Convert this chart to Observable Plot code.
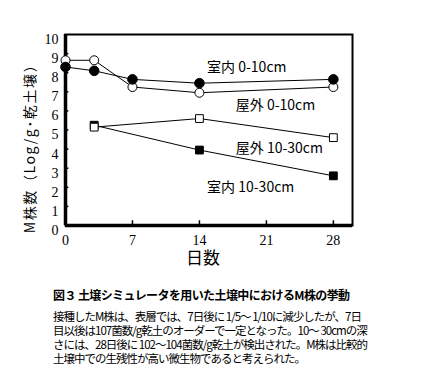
<!DOCTYPE html>
<html>
<head>
<meta charset="utf-8">
<script src="https://cdn.jsdelivr.net/npm/d3@7"></script>
<script src="https://cdn.jsdelivr.net/npm/@observablehq/plot@0.6"></script>
<style>
  html, body { margin: 0; padding: 0; background: #fff; }
  #chart svg { display: block; }
  .cap { font-family: "Noto Sans CJK JP", sans-serif; color: #000; padding-left: 53px; }
  .cap .t { font-weight: bold; font-size: 12px; line-height: 14px; margin-top: 8px; letter-spacing: -0.6px; white-space: nowrap; }
  .cap .p { font-size: 11.5px; line-height: 14px; margin-top: 7px; letter-spacing: -1px; }
  .cap .p div { white-space: nowrap; }
</style>
</head>
<body>
<div id="chart"></div>
<div class="cap">
  <div class="t">図３ 土壌シミュレータを用いた土壌中におけるM株の挙動</div>
  <div class="p">
    <div>接種したM株は、表層では、7日後に 1/5～ 1/10に減少したが、7日</div>
    <div>目以後は107菌数/g乾土のオーダーで一定となった。10～ 30cmの深</div>
    <div>さには、28日後に 102～104菌数/g乾土が検出された。M株は比較的</div>
    <div>土壌中での生残性が高い微生物であると考えられた。</div>
  </div>
</div>
<script>
const days0 = [0, 3, 7, 14, 28];
const indoorSurface = [8.3, 8.1, 7.65, 7.45, 7.65];   // 室内 0-10cm (filled circle)
const outdoorSurface = [8.65, 8.65, 7.25, 6.95, 7.25]; // 屋外 0-10cm (open circle)
const days1 = [3, 14, 28];
const indoorDeep = [5.25, 3.95, 2.6];                  // 室内 10-30cm (filled square)
const outdoorDeep = [5.15, 5.6, 4.6];                  // 屋外 10-30cm (open square)

const xTicks = [0, 7, 14, 21, 28];
const yTicks = [0, 1, 2, 3, 4, 5, 6, 7, 8, 9, 10];

const labelText = ["室内 0-10cm", "屋外 0-10cm", "屋外 10-30cm", "室内 10-30cm"];
const labelDay = [14.8, 17.8, 17.8, 14.8];
const labelVal = [8.27, 6.28, 4.03, 1.99];

const xTitle = "日数";
const yTitle = "M株数（Log/g･乾土壌）";

const mk = (xs, ys) => xs.map((d, i) => ({day: d, v: ys[i]}));
const sIS = mk(days0, indoorSurface);
const sOS = mk(days0, outdoorSurface);
const sID = mk(days1, indoorDeep);
const sOD = mk(days1, outdoorDeep);
const labels = labelText.map((t, i) => ({t, day: labelDay[i], v: labelVal[i]}));

const font = '"Liberation Serif", "Noto Sans CJK JP", serif';
const jp = '"Noto Sans CJK JP", sans-serif';

const plot = Plot.plot({
  width: 436,
  height: 280,
  marginLeft: 65,
  marginRight: 84,
  marginTop: 34,
  marginBottom: 55,
  style: {fontFamily: font, fontSize: "14px", color: "#000", background: "#fff"},
  x: {domain: [0, 30], axis: null},
  y: {domain: [0, 10], axis: null},
  marks: [
    Plot.frame({stroke: "#000", strokeWidth: 2}),
    Plot.ruleX(xTicks.slice(1), {y1: 0, y2: 0.25, stroke: "#000", strokeWidth: 1.5}),
    Plot.ruleY(yTicks.slice(1, -1), {x1: 0, x2: 0.35, stroke: "#000", strokeWidth: 1.5}),
    Plot.ruleY([0], {stroke: "#000", strokeWidth: 3.5}),
    Plot.ruleX([0], {stroke: "#000", strokeWidth: 3.5}),
    Plot.axisX({ticks: xTicks, label: null, tickSize: 0, tickPadding: 10, fontSize: 14, fontFamily: font, tickFormat: d => String(d)}),
    Plot.axisY({ticks: yTicks, label: null, tickSize: 0, tickPadding: 7, dy: 5, fontSize: 14, fontFamily: font, tickFormat: d => String(d)}),
    Plot.lineY(sIS, {x: "day", y: "v", stroke: "#000", strokeWidth: 1}),
    Plot.lineY(sOS, {x: "day", y: "v", stroke: "#000", strokeWidth: 1}),
    Plot.lineY(sID, {x: "day", y: "v", stroke: "#000", strokeWidth: 1}),
    Plot.lineY(sOD, {x: "day", y: "v", stroke: "#000", strokeWidth: 1}),
    Plot.dot(sOS, {x: "day", y: "v", r: 4.5, fill: "#fff", stroke: "#000", strokeWidth: 1}),
    Plot.dot(sIS, {x: "day", y: "v", r: 4.8, fill: "#000", stroke: "#000", strokeWidth: 1}),
    Plot.dot(sID, {x: "day", y: "v", r: 4.4, symbol: "square", fill: "#000", stroke: "#000", strokeWidth: 1}),
    Plot.dot(sOD, {x: "day", y: "v", r: 4.4, symbol: "square", fill: "#fff", stroke: "#000", strokeWidth: 1}),
    Plot.text(labels, {x: "day", y: "v", text: "t", textAnchor: "start", fontSize: 14, fontFamily: jp, fill: "#000"}),
    Plot.text([xTitle], {frameAnchor: "bottom", dy: 38, dx: -6, text: d => d, fontSize: 17, fontFamily: jp, fill: "#000"}),
    Plot.text([yTitle], {frameAnchor: "left", textAnchor: "middle", dx: -35, dy: 15, rotate: -90, text: d => d, fontSize: 14, fontFamily: jp, fill: "#000", className: "ytitle"})
  ]
});
d3.select(plot).selectAll(".ytitle text").style("letter-spacing", "1.6px");
document.getElementById("chart").appendChild(plot);
</script>
</body>
</html>
